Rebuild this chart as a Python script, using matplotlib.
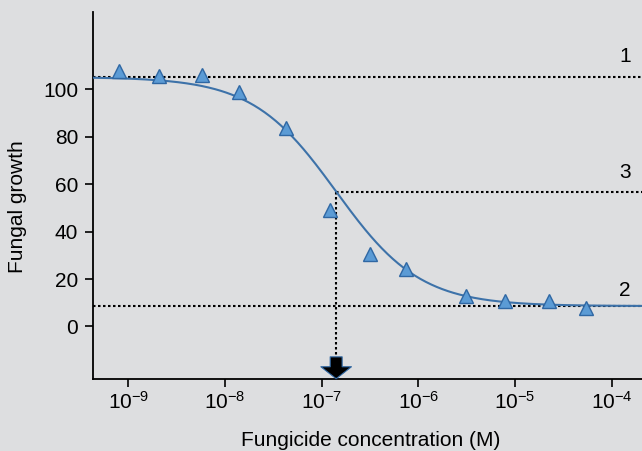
import numpy as np
import matplotlib
matplotlib.use('Agg')
import matplotlib.pyplot as plt
from matplotlib.ticker import NullLocator

plt.rcParams['font.family'] = ['Liberation Sans', 'DejaVu Sans']

# observed points (log10 of concentration, growth)
log_conc = [-9.10, -8.68, -8.24, -7.86, -7.37, -6.91, -6.50, -6.13, -5.51, -5.10, -4.65, -4.27]
growth = [107.7, 105.6, 106.0, 98.8, 83.6, 49.1, 30.6, 24.2, 12.9, 10.7, 10.7, 7.8]

# fitted dose-response curve parameters
top = 105.1
bottom = 8.6
log_ec50 = -6.85
hill = 1.0

bg = '#dddee0'
blue_line = '#3d72a9'
blue_fill = '#5b9bd5'
blue_edge = '#2f67a3'
fs = 15

fig = plt.figure(figsize=(6.42, 4.51), dpi=100, facecolor=bg)
ax = fig.add_axes([0.1444, 0.1603, 0.8556, 0.8131], facecolor=bg)

xmin, xmax = 10**-9.368, 10**-3.687
ymin, ymax = -22.0, 132.5

xs = np.logspace(np.log10(xmin), np.log10(xmax), 400)
ys = bottom + (top - bottom) / (1 + 10**((np.log10(xs) - log_ec50) * hill))
half = (top + bottom) / 2
ec50 = 10**log_ec50

dots = dict(color='black', lw=1.5, ls=(0, (1.2, 1.2)), zorder=2)
ax.axhline(top, **dots)
ax.axhline(bottom, **dots)
ax.plot([ec50, xmax], [half, half], **dots)
ax.plot([ec50, ec50], [half, -12.8], **dots)

ax.plot(xs, ys, color=blue_line, lw=1.5, zorder=3)
ax.plot(10**np.array(log_conc), growth, ls='none', marker='^', ms=10,
        mfc=blue_fill, mec=blue_edge, mew=1.0, zorder=4)

ax.annotate('', xy=(ec50, ymin), xytext=(ec50, -12.8),
            arrowprops=dict(arrowstyle='simple,head_width=2.2,head_length=0.86,tail_width=0.86',
                            mutation_scale=10, fc='black', ec=blue_edge, lw=0.8,
                            shrinkA=0, shrinkB=0), zorder=5)

lx = 10**-3.864
ax.text(lx, 113.7, '1', fontsize=fs, ha='center', va='center')
ax.text(lx, 64.7, '3', fontsize=fs, ha='center', va='center')
ax.text(lx, 15.1, '2', fontsize=fs, ha='center', va='center')

ax.set_xscale('log')
ax.set_xlim(xmin, xmax)
ax.set_ylim(ymin, ymax)
ax.set_xticks([1e-9, 1e-8, 1e-7, 1e-6, 1e-5, 1e-4])
ax.xaxis.set_minor_locator(NullLocator())
ax.set_yticks([0, 20, 40, 60, 80, 100])

for s in ['top', 'right']:
    ax.spines[s].set_visible(False)
for s in ['left', 'bottom']:
    ax.spines[s].set_linewidth(1.3)
ax.tick_params(length=6, width=1.2, labelsize=fs, colors='black')
ax.tick_params(axis='y', pad=4.5)
ax.tick_params(axis='x', pad=2.5)

fig.text(17.5 / 642, 1 - 207 / 451, 'Fungal growth', rotation=90, fontsize=fs,
         ha='center', va='center')
fig.text(371 / 642, 1 - 441 / 451, 'Fungicide concentration (M)', fontsize=fs,
         ha='center', va='center')

fig.savefig('out.png', dpi=100, facecolor=bg)
